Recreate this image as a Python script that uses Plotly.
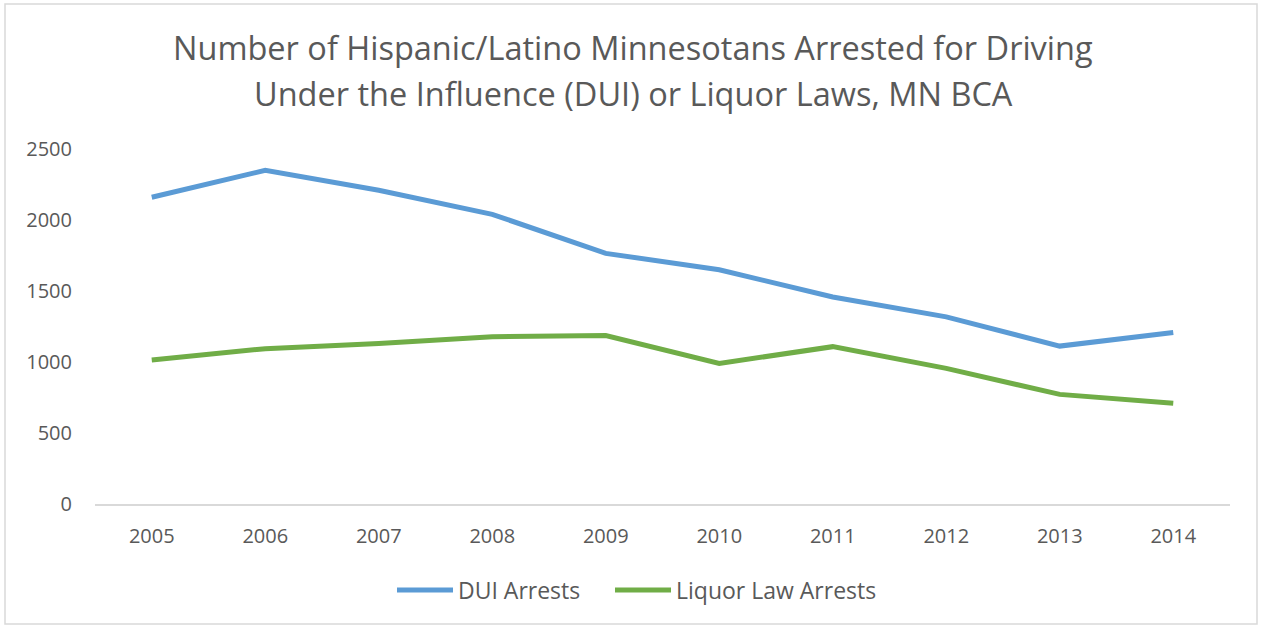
import plotly.graph_objects as go

years = ["2005", "2006", "2007", "2008", "2009", "2010", "2011", "2012", "2013", "2014"]
dui_arrests = [2160, 2350, 2210, 2040, 1765, 1650, 1458, 1318, 1112, 1208]
liquor_arrests = [1014, 1094, 1131, 1178, 1186, 990, 1108, 955, 772, 710]
y_ticks = [0, 500, 1000, 1500, 2000, 2500]

title_line1 = "Number of Hispanic/Latino Minnesotans Arrested for Driving"
title_line2 = "Under the Influence (DUI) or Liquor Laws, MN BCA"

W, H = 1261, 628
L, R, T, B = 95, 31, 149, 124
pw, ph = W - L - R, H - T - B

def px(x):
    return (x - L) / pw

def py(y):
    return (H - B - y) / ph

FONT = "Open Sans, Noto Sans, sans-serif"
GRAY = "#595959"

fig = go.Figure()
fig.add_trace(go.Scatter(x=years, y=dui_arrests, mode="lines", name="DUI Arrests",
                         line=dict(color="#5B9BD5", width=5), legend="legend"))
fig.add_trace(go.Scatter(x=years, y=liquor_arrests, mode="lines", name="Liquor Law Arrests",
                         line=dict(color="#70AD47", width=5), legend="legend2"))

legend_style = dict(orientation="h", xanchor="left", y=py(590), yanchor="middle",
                    font=dict(size=23, color=GRAY), itemwidth=56,
                    bgcolor="rgba(0,0,0,0)")

fig.update_layout(
    width=W, height=H,
    margin=dict(l=L, r=R, t=T, b=B),
    paper_bgcolor="white", plot_bgcolor="white",
    font=dict(family=FONT, color=GRAY, size=20),
    showlegend=True,
    legend=dict(x=px(392), **legend_style),
    legend2=dict(x=px(610), **legend_style),
    xaxis=dict(type="category", range=[-0.5, len(years) - 0.5], showgrid=False,
               showline=True, linecolor="#D9D9D9",
               linewidth=1.5, ticks="", tickfont=dict(size=20, color=GRAY),
               ticklabelstandoff=13, zeroline=False, fixedrange=True),
    yaxis=dict(range=[0, 2500], tickvals=y_ticks, showgrid=False, zeroline=False,
               showline=False, ticks="", tickfont=dict(size=20, color=GRAY),
               ticklabelstandoff=22, fixedrange=True),
    annotations=[
        dict(text=title_line1, xref="paper", yref="paper", x=px(633), y=py(48),
             xanchor="center", yanchor="middle", showarrow=False,
             font=dict(size=32.5, color=GRAY, family=FONT)),
        dict(text=title_line2, xref="paper", yref="paper", x=px(633), y=py(93),
             xanchor="center", yanchor="middle", showarrow=False,
             font=dict(size=32.5, color=GRAY, family=FONT)),
    ],
    shapes=[
        dict(type="rect", xref="paper", yref="paper",
             x0=px(5), x1=px(1257), y0=py(624), y1=py(4),
             line=dict(color="#D9D9D9", width=1.5), fillcolor="rgba(0,0,0,0)", layer="below"),
    ],
)

fig.write_html("out.html", config={"displayModeBar": False},
               post_script="document.body.style.margin='0';")
